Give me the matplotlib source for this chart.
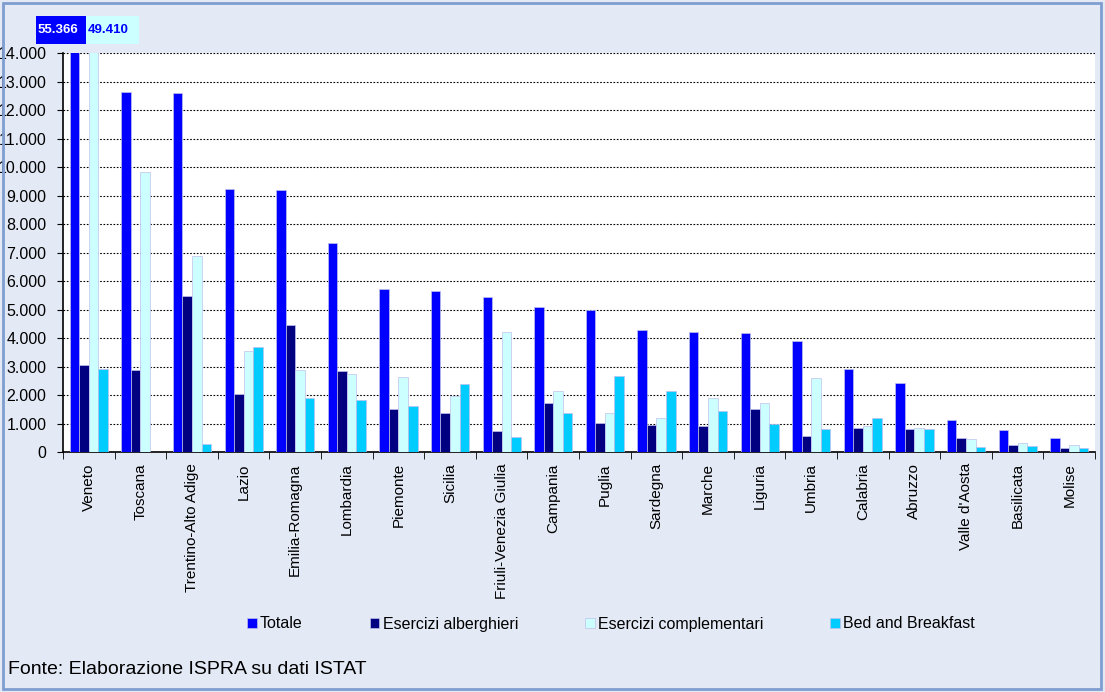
import numpy as np
import matplotlib.pyplot as plt
from matplotlib.patches import Rectangle
from matplotlib.ticker import FuncFormatter, MultipleLocator

# Dati per regione
regioni = ["Veneto", "Toscana", "Trentino-Alto Adige", "Lazio", "Emilia-Romagna",
           "Lombardia", "Piemonte", "Sicilia", "Friuli-Venezia Giulia", "Campania",
           "Puglia", "Sardegna", "Marche", "Liguria", "Umbria", "Calabria",
           "Abruzzo", "Valle d'Aosta", "Basilicata", "Molise"]
totale = [55366, 12630, 12610, 9230, 9190, 7330, 5720, 5650, 5440, 5100,
          5000, 4270, 4200, 4190, 3900, 2910, 2410, 1120, 770, 480]
alberghieri = [3060, 2880, 5470, 2050, 4470, 2840, 1520, 1360, 750, 1710,
               1030, 950, 900, 1500, 570, 850, 810, 490, 250, 130]
complementari = [49410, 9820, 6880, 3540, 2880, 2740, 2630, 1960, 4200, 2130,
                 1380, 1200, 1890, 1730, 2590, 910, 850, 470, 320, 250]
bnb = [2910, 0, 280, 3670, 1880, 1810, 1600, 2390, 530, 1360,
       2670, 2140, 1450, 990, 800, 1190, 800, 180, 220, 150]

serie = ["Totale", "Esercizi alberghieri", "Esercizi complementari", "Bed and Breakfast"]
colori = ["#0000FF", "#000080", "#CCFFFF", "#00CCFF"]
valori = [totale, alberghieri, complementari, bnb]
ymax = 14000

def fmt(v, pos=None):
    return "{:,.0f}".format(v).replace(",", ".")

plt.rcParams['font.family'] = ['Liberation Sans', 'DejaVu Sans']
fig = plt.figure(figsize=(11.05, 6.92), dpi=100, facecolor="#E3E9F5")
fig.patches.append(Rectangle((0.003, 0.004), 0.993, 0.992, transform=fig.transFigure,
                             fill=False, edgecolor="#7F9DD0", linewidth=2))
ax = fig.add_axes([0.057, 0.3468, 0.934, 0.5766])
ax.set_facecolor("white")

x = np.arange(len(regioni))
w = 0.185
for i in range(4):
    ax.bar(x + (i - 1.5) * w, valori[i], w, color=colori[i], edgecolor="#C0C0EC",
           linewidth=0.5, label=serie[i], zorder=3)

ax.set_ylim(0, ymax)
ax.set_xlim(-0.5, len(regioni) - 0.5)
ax.yaxis.set_major_locator(MultipleLocator(1000))
ax.yaxis.set_major_formatter(FuncFormatter(fmt))
ax.grid(axis="y", color="black", linestyle=(0, (1.5, 1.5)), linewidth=0.8, zorder=0)
ax.tick_params(axis="y", labelsize=11.5, length=4, direction="out", pad=8)
ax.set_xticks(x)
ax.set_xticklabels(regioni, rotation=90, fontsize=11, va="top")
ax.set_xticks(np.arange(len(regioni) + 1) - 0.5, minor=True)
ax.tick_params(axis="x", which="major", length=0, pad=8)
ax.tick_params(axis="x", which="minor", length=5, direction="out")
for s in ["top", "right"]:
    ax.spines[s].set_visible(False)
ax.spines["left"].set_linewidth(1.2)
ax.spines["bottom"].set_linewidth(1.2)

# valori fuori scala (Veneto)
box_x = [36, 86]
box_w = [50, 53]
box_fc = ["#0000FF", "#CCFFFF"]
box_tc = ["white", "#0000FF"]
for k, v in enumerate([totale[0], complementari[0]]):
    fig.patches.append(Rectangle((box_x[k] / 1105, 1 - 44 / 692), box_w[k] / 1105, 28 / 692,
                                 transform=fig.transFigure, facecolor=box_fc[k],
                                 edgecolor="none"))
    fig.text((box_x[k] + 2) / 1105, 1 - 30 / 692, fmt(v), color=box_tc[k],
             fontsize=9.5, fontweight="bold", va="center", ha="left")

fig.legend(loc="center", bbox_to_anchor=(0.553, 1 - 624 / 692), ncol=4, frameon=False,
           handlelength=0.6, handleheight=0.6, handletextpad=0.2,
           columnspacing=4.2, prop={'size': 11.5})

fig.text(8 / 1105, 1 - 670 / 692, "Fonte: Elaborazione ISPRA su dati ISTAT", fontsize=14,
         va="center", ha="left")

fig.savefig("out.png", dpi=100, facecolor=fig.get_facecolor())
